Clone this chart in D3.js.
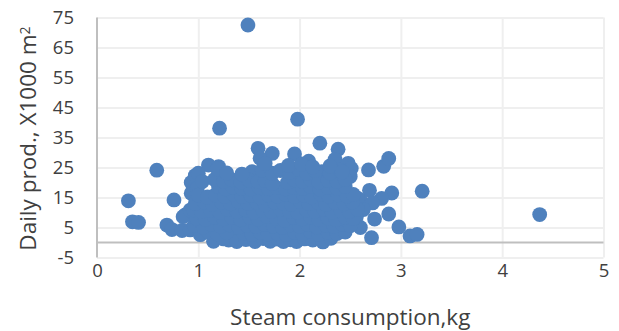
<!DOCTYPE html>
<html>
<head>
<meta charset="utf-8">
<script src="https://cdn.jsdelivr.net/npm/d3@7"></script>
<style>
  html, body { margin: 0; padding: 0; background: #fff; }
  svg { display: block; font-family: "Open Sans", sans-serif; }
</style>
</head>
<body>
<svg id="chart" width="619" height="331"></svg>
<script>
// ---- data ----
const xTickValues = [0, 1, 2, 3, 4, 5];
const yTickValues = [-5, 5, 15, 25, 35, 45, 55, 65, 75];
const xTitle = "Steam consumption,kg";
const yTitle = "Daily prod., X1000 m";

const steamKg = [
  // outlying / edge points
  1.49, 1.98, 1.21, 2.20, 2.38, 1.59, 1.73, 1.95, 2.09, 2.35, 2.48, 2.51, 1.61, 1.53, 2.22,
  0.59, 0.31, 0.35, 0.41, 0.76, 0.69, 0.74, 0.84, 0.87, 0.93, 1.10, 0.97, 0.93,
  2.68, 2.83, 2.88, 2.69, 2.91, 3.21, 2.88, 2.74, 2.60, 2.71, 2.98, 3.09, 3.16, 4.37, 2.81, 2.60,
  0.92, 1.38,
  0.85, 0.92, 1.00, 1.20, 1.02, 0.99, 1.30, 2.72, 2.57, 2.50, 2.63, 2.56,
  // main cluster
  1.15, 1.25, 1.38, 1.47, 1.56, 1.64, 1.71, 1.79, 1.84, 1.91, 1.97, 2.05, 2.13, 2.23, 2.31,
  1.02, 1.10, 1.19, 1.28, 1.45, 1.53, 1.61, 1.69, 1.78, 1.87, 1.95, 2.03, 2.11, 2.19, 2.28, 2.37, 2.45,
  0.96, 1.05, 1.13, 1.22, 1.31, 1.40, 1.48, 1.57, 1.65, 1.74, 1.83, 1.91, 2.00, 2.08, 2.17, 2.26, 2.34, 2.42, 2.50,
  0.98, 1.07, 1.16, 1.25, 1.33, 1.42, 1.51, 1.59, 1.68, 1.77, 1.85, 1.94, 2.03, 2.11, 2.19, 2.28, 2.36, 2.45, 2.53,
  0.95, 1.03, 1.12, 1.21, 1.29, 1.38, 1.47, 1.55, 1.64, 1.72, 1.81, 1.90, 1.98, 2.07, 2.15, 2.24, 2.32, 2.41, 2.49, 2.57,
  0.97, 1.06, 1.14, 1.23, 1.32, 1.40, 1.49, 1.58, 1.66, 1.75, 1.84, 1.92, 2.01, 2.09, 2.18, 2.26, 2.35, 2.44, 2.52,
  1.00, 1.09, 1.17, 1.26, 1.35, 1.43, 1.52, 1.61, 1.69, 1.78, 1.86, 1.95, 2.04, 2.12, 2.21, 2.29, 2.38, 2.47, 2.53,
  1.20, 1.27, 1.34, 1.43, 1.52, 1.60, 1.69, 1.77, 1.86, 1.94, 2.03, 2.11, 2.20, 2.28, 2.37, 2.45,
  1.04, 1.16, 1.25, 1.33, 1.42, 1.50, 1.59, 1.66, 1.73, 1.88, 1.95, 2.03, 2.11, 2.19, 2.28, 2.37, 2.45,
  1.19, 1.28, 1.43, 1.63, 1.73, 1.81, 1.90, 1.99, 2.07, 2.15, 2.30, 2.40,
  1.66, 1.89, 2.02, 2.13, 2.30, 2.42
];

const dailyProd = [
  // outlying / edge points
  72.5, 41.1, 38.1, 33.1, 31.1, 31.4, 29.7, 29.5, 27.1, 27.7, 26.4, 24.7, 28.1, 23.6, 23.6,
  24.1, 13.9, 6.9, 6.7, 14.2, 5.8, 4.3, 4.0, 9.2, 20.0, 25.8, 22.3, 16.4,
  24.2, 25.4, 28.0, 17.4, 16.5, 17.1, 9.5, 7.8, 5.0, 1.6, 5.2, 2.2, 2.7, 9.3, 14.7, 14.0,
  4.2, 2.5,
  8.6, 10.8, 23.1, 25.3, 14.2, 18.0, 0.8, 13.2, 14.8, 22.0, 11.0, 8.5,
  // main cluster
  0.4, 1.2, 0.3, 1.0, 0.3, 1.3, 0.4, 1.1, 0.3, 0.9, 0.3, 1.2, 0.8, 0.2, 1.4,
  2.6, 3.4, 2.9, 3.3, 3.1, 2.7, 3.5, 2.8, 3.2, 2.6, 3.4, 2.9, 3.6, 2.7, 3.3, 3.0, 3.5,
  5.7, 5.2, 6.0, 5.4, 5.9, 5.1, 5.8, 5.3, 6.1, 5.5, 5.0, 5.9, 5.4, 6.0, 5.2, 5.7, 5.3, 6.1, 5.6,
  8.2, 7.7, 8.5, 7.9, 8.4, 7.6, 8.3, 7.8, 8.6, 8.0, 7.5, 8.4, 7.9, 8.5, 7.7, 8.2, 7.6, 8.4, 8.0,
  10.9, 10.3, 10.8, 10.2, 11.0, 10.4, 10.9, 10.1, 10.7, 10.3, 11.0, 10.5, 10.1, 10.8, 10.4, 11.0, 10.2, 10.7, 10.3, 11.2,
  13.1, 13.5, 12.8, 13.4, 12.9, 13.6, 13.0, 13.3, 12.7, 13.5, 13.1, 12.8, 13.6, 13.0, 13.4, 12.7, 13.3, 12.9, 13.5,
  15.8, 15.2, 15.9, 15.4, 16.0, 15.3, 15.7, 15.1, 15.9, 15.5, 16.1, 15.3, 15.8, 15.2, 16.0, 15.4, 15.9, 15.5, 16.0,
  18.6, 17.9, 18.5, 18.1, 17.8, 18.4, 18.0, 18.3, 17.9, 18.3, 18.0, 18.6, 17.8, 18.4, 18.1, 18.7,
  20.3, 21.0, 20.4, 20.9, 20.2, 20.8, 20.3, 20.6, 19.6, 20.0, 20.9, 20.4, 21.0, 20.2, 20.7, 20.3, 21.0,
  24.5, 23.2, 22.8, 24.2, 23.1, 24.0, 23.3, 24.5, 23.1, 24.0, 23.2, 24.1,
  26.3, 25.7, 26.2, 25.2, 25.5, 23.5
];

// ---- layout ----
const svg = d3.select("#chart");
const plot = { left: 97, right: 603.5, top: 17.5, bottom: 257.5 };

const x = d3.scaleLinear().domain([0, 5]).range([plot.left, plot.right]);
const y = d3.scaleLinear().domain([-5, 75]).range([plot.bottom, plot.top]);

const textColor = "#404040";
const gridColor = "#efefef";
const axisColor = "#bfbfbf";
const pointColor = "#4f81bd";
const plainNumber = d => String(d);

// gridlines (horizontal)
svg.append("g")
  .attr("transform", `translate(${plot.left},0)`)
  .call(d3.axisLeft(y).tickValues(yTickValues).tickSize(-(plot.right - plot.left)).tickFormat(""))
  .call(g => g.select(".domain").remove())
  .call(g => g.selectAll("line").attr("stroke", gridColor).attr("stroke-width", 2));

// gridlines (vertical)
svg.append("g")
  .attr("transform", `translate(0,${plot.bottom})`)
  .call(d3.axisBottom(x).tickValues(xTickValues.slice(1)).tickSize(-(plot.bottom - plot.top)).tickFormat(""))
  .call(g => g.select(".domain").remove())
  .call(g => g.selectAll("line").attr("stroke", gridColor).attr("stroke-width", 2));

// vertical axis line at x = 0
svg.append("line")
  .attr("x1", x(0)).attr("x2", x(0))
  .attr("y1", y(75)).attr("y2", y(-5))
  .attr("stroke", axisColor).attr("stroke-width", 2);

// horizontal axis line at y = 0
svg.append("line")
  .attr("x1", x(0)).attr("x2", x(5))
  .attr("y1", y(0)).attr("y2", y(0))
  .attr("stroke", axisColor).attr("stroke-width", 2);

// y tick labels
svg.append("g")
  .attr("transform", `translate(${plot.left - 23},0)`)
  .call(d3.axisLeft(y).tickValues(yTickValues).tickSize(0).tickPadding(0).tickFormat(plainNumber))
  .call(g => g.select(".domain").remove())
  .call(g => g.selectAll("text")
    .attr("fill", textColor)
    .style("font-family", "'Open Sans', sans-serif")
    .style("font-size", "18.5px"));

// x tick labels
svg.append("g")
  .attr("transform", `translate(0,${plot.bottom + 6})`)
  .call(d3.axisBottom(x).tickValues(xTickValues).tickSize(0).tickPadding(0).tickFormat(plainNumber))
  .call(g => g.select(".domain").remove())
  .call(g => g.selectAll("text")
    .attr("fill", textColor)
    .style("font-family", "'Open Sans', sans-serif")
    .style("font-size", "18.5px"));

// points
const points = steamKg.map((v, i) => ({ x: v, y: dailyProd[i] }));
svg.append("g")
  .selectAll("circle")
  .data(points)
  .join("circle")
  .attr("cx", d => x(d.x))
  .attr("cy", d => y(d.y))
  .attr("r", 7.4)
  .attr("fill", pointColor);

// axis titles
svg.append("text")
  .attr("x", (plot.left + plot.right) / 2)
  .attr("y", 325)
  .attr("text-anchor", "middle")
  .attr("fill", textColor)
  .style("font-size", "22.5px")
  .text(xTitle);

const yt = svg.append("text")
  .attr("transform", `translate(36,${(plot.top + plot.bottom) / 2 + 1}) rotate(-90)`)
  .attr("text-anchor", "middle")
  .attr("fill", textColor)
  .style("font-size", "22.5px");
yt.append("tspan").text(yTitle);
yt.append("tspan").attr("dy", "-0.45em").style("font-size", "14px").text("2");
</script>
</body>
</html>
